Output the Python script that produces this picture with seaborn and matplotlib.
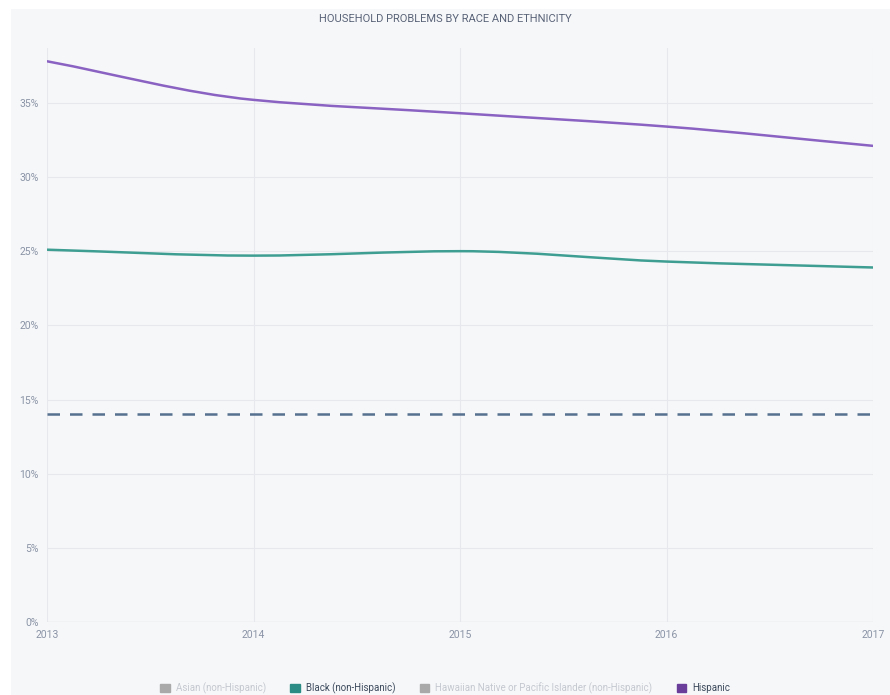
import numpy as np
import pandas as pd
import seaborn as sns
import matplotlib.pyplot as plt
from matplotlib.patches import Patch, PathPatch, Rectangle
from matplotlib.path import Path
from matplotlib.ticker import FuncFormatter

# data
years = [2013, 2014, 2015, 2016, 2017]
hispanic = [37.8, 35.2, 34.3, 33.4, 32.1]
black = [25.1, 24.7, 25.0, 24.3, 23.9]
overall = [14.0, 14.0, 14.0, 14.0, 14.0]
y_ticks = [0, 5, 10, 15, 20, 25, 30, 35]

legend_labels = ['Asian (non-Hispanic)', 'Black (non-Hispanic)',
                 'Hawaiian Native or Pacific Islander (non-Hispanic)', 'Hispanic']
legend_colors = ['#a9a9a9', '#2a8c84', '#a9a9a9', '#6a3d9a']
legend_text_colors = ['#c4c8cf', '#3c4a5c', '#c4c8cf', '#3c4a5c']

df = pd.DataFrame({'year': years, 'Hispanic': hispanic,
                   'Black (non-Hispanic)': black, 'All': overall})


def smooth_path(x, y):
    # monotone cubic (d3 curveMonotoneX style) as bezier segments
    x = np.asarray(x, float)
    y = np.asarray(y, float)
    h = np.diff(x)
    d = np.diff(y) / h
    m = np.zeros_like(y)
    m[0], m[-1] = d[0], d[-1]
    for i in range(1, len(y) - 1):
        if d[i - 1] * d[i] <= 0:
            m[i] = 0
        else:
            m[i] = 2 / (1 / d[i - 1] + 1 / d[i])
    verts = [(x[0], y[0])]
    codes = [Path.MOVETO]
    for i in range(len(x) - 1):
        verts += [(x[i] + h[i] / 3, y[i] + m[i] * h[i] / 3),
                  (x[i + 1] - h[i] / 3, y[i + 1] - m[i + 1] * h[i] / 3),
                  (x[i + 1], y[i + 1])]
        codes += [Path.CURVE4] * 3
    return Path(verts, codes)


sns.set_style('white')
plt.rcParams['font.family'] = ['Roboto', 'DejaVu Sans']

bg = '#f6f7f9'
fig = plt.figure(figsize=(8.9, 6.95), dpi=100, facecolor='white')
fig.patches.append(Rectangle((11 / 890, 0), 1, 1 - 9 / 695, transform=fig.transFigure,
                             facecolor=bg, edgecolor='none', zorder=-1))
ax = fig.add_axes([0.053, 0.105, 0.928, 0.826])
ax.set_facecolor(bg)

sns.lineplot(data=df, x='year', y='All', color='#56708f', lw=1.8, ax=ax,
             linestyle=(0, (5, 4)))
for col, color in [('Hispanic', '#8a62c2'), ('Black (non-Hispanic)', '#3f9e92')]:
    ax.add_patch(PathPatch(smooth_path(df['year'], df[col]), facecolor='none',
                           edgecolor=color, lw=1.8, capstyle='round'))

ax.set_xlim(2013, 2017)
ax.set_ylim(0, 38.7)
ax.set_xticks(years)
ax.set_yticks(y_ticks)
ax.yaxis.set_major_formatter(FuncFormatter(lambda v, p: f'{v:.0f}%'))
ax.grid(True, color='#e6e8ed', lw=0.8)
for s in ax.spines.values():
    s.set_visible(False)
ax.axhline(0, color='#e0e3e8', lw=1)
ax.tick_params(colors='#8a94a6', labelsize=7.5, length=0, pad=6)
ax.set_xlabel('')
ax.set_ylabel('')

fig.text(0.5, 0.972, 'HOUSEHOLD PROBLEMS BY RACE AND ETHNICITY', ha='center',
         va='center', fontsize=8, color='#5a6478')

handles = [Patch(color=c) for c in legend_colors]
leg = fig.legend(handles, legend_labels, loc='center', bbox_to_anchor=(0.5, 0.01),
                 ncol=4, frameon=False, fontsize=7, handlelength=1, handleheight=1,
                 columnspacing=2.5, handletextpad=0.6)
for t, c in zip(leg.get_texts(), legend_text_colors):
    t.set_color(c)

fig.savefig('out.png', dpi=100, facecolor='white')
